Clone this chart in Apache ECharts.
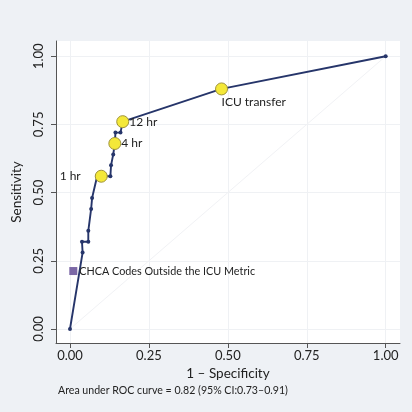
<!DOCTYPE html>
<html>
<head>
<meta charset="utf-8">
<script src="https://cdn.jsdelivr.net/npm/echarts@6/dist/echarts.min.js"></script>
<style>
  html, body { margin: 0; padding: 0; background: #eef1f5; }
  #chart { width: 412px; height: 412px; }
</style>
</head>
<body>
<div id="chart"></div>
<script>
// ROC curve vertices (1 - specificity, sensitivity)
const rocFpr = [0, 0.040, 0.038, 0.058, 0.058, 0.067, 0.070, 0.086, 0.128, 0.130, 0.137, 0.142, 0.144, 0.160, 0.167, 0.480, 1];
const rocTpr = [0, 0.280, 0.320, 0.320, 0.360, 0.440, 0.480, 0.560, 0.560, 0.600, 0.640, 0.680, 0.720, 0.720, 0.760, 0.880, 1];

// highlighted time points
const hlNames = ['1 hr', '4 hr', '12 hr', 'ICU transfer'];
const hlFpr   = [0.099, 0.142, 0.167, 0.480];
const hlTpr   = [0.560, 0.680, 0.760, 0.880];

// CHCA metric point
const chcaName = 'CHCA Codes Outside the ICU Metric';
const chcaFpr  = 0.0105;
const chcaTpr  = 0.2125;

// reference diagonal
const refX = [0, 1];
const refY = [0, 1];

const tickVals = [0, 0.25, 0.5, 0.75, 1];
const footer = 'Area under ROC curve = 0.82 (95% CI:0.73\u20130.91)';

const FONT = 'Lato, "Open Sans", sans-serif';
const COLORS = {
  line:   '#26356a',
  yellow: '#f4e838',
  yBorder:'#a0943a',
  purple: '#7b68a6',
  axis:   '#555',
  text:   '#222',
  grid:   '#eff1f4',
  diag:   '#f1f2f5',
};

const hlPos = ['left', 'right', 'right', 'bottom'];

const chart = echarts.init(document.getElementById('chart'), null, { renderer: 'canvas' });

chart.setOption({
  backgroundColor: '#eef1f5',
  animation: false,
  textStyle: { fontFamily: FONT },
  title: {
    text: footer,
    left: 58,
    top: 385,
    padding: 0,
    textStyle: { fontFamily: FONT, fontSize: 10.6, fontWeight: 'normal', color: COLORS.text },
  },
  grid: {
    left: 56, right: 12, top: 41, bottom: 69,
    show: true, backgroundColor: '#fff', borderWidth: 0,
    outerBoundsMode: 'none',
  },
  xAxis: {
    type: 'value',
    min: -0.0443, max: 1.0453,
    name: '1 \u2013 Specificity',
    nameLocation: 'middle',
    nameGap: 24,
    nameTextStyle: { fontFamily: FONT, fontSize: 13.5, color: COLORS.text },
    axisLine: { show: true, onZero: false, lineStyle: { color: COLORS.axis, width: 1 } },
    axisTick: { show: true, length: 5, customValues: tickVals, lineStyle: { color: COLORS.axis } },
    axisLabel: {
      customValues: tickVals, margin: 6,
      fontFamily: FONT, fontSize: 13, color: COLORS.text,
      formatter: v => v.toFixed(2),
    },
    splitLine: { show: true, lineStyle: { color: COLORS.grid, width: 1 } },
  },
  yAxis: {
    type: 'value',
    min: -0.0513, max: 1.0557,
    name: 'Sensitivity',
    nameLocation: 'middle',
    nameGap: 30,
    nameTextStyle: { fontFamily: FONT, fontSize: 13.5, color: COLORS.text },
    axisLine: { show: true, onZero: false, lineStyle: { color: COLORS.axis, width: 1 } },
    axisTick: { show: true, length: 5, customValues: tickVals, lineStyle: { color: COLORS.axis } },
    axisLabel: {
      customValues: tickVals, margin: 11, rotate: 90,
      fontFamily: FONT, fontSize: 13, color: COLORS.text,
      formatter: v => v.toFixed(2),
    },
    splitLine: { show: true, lineStyle: { color: COLORS.grid, width: 1 } },
  },
  series: [
    {
      name: 'reference',
      type: 'line',
      data: refX.map((x, i) => [x, refY[i]]),
      symbol: 'none',
      lineStyle: { color: COLORS.diag, width: 1 },
      silent: true,
      z: 1,
    },
    {
      name: 'ROC',
      type: 'line',
      data: rocFpr.map((x, i) => [x, rocTpr[i]]),
      symbol: 'circle',
      symbolSize: 4,
      lineStyle: { color: COLORS.line, width: 1.9 },
      itemStyle: { color: COLORS.line },
      z: 3,
    },
    {
      name: 'time points',
      type: 'scatter',
      data: hlFpr.map((x, i) => ({
        value: [x, hlTpr[i]],
        name: hlNames[i],
        label: {
          position: hlPos[i],
          distance: hlPos[i] === 'left' ? 14 : (hlPos[i] === 'bottom' ? 1 : 0),
          align: hlPos[i] === 'bottom' ? 'left' : undefined,
        },
      })),
      symbol: 'circle',
      symbolSize: 12,
      itemStyle: { color: COLORS.yellow, borderColor: COLORS.yBorder, borderWidth: 1, opacity: 1 },
      label: {
        show: true,
        formatter: p => p.name,
        fontFamily: FONT, fontSize: 12, color: COLORS.text,
      },
      z: 5,
    },
    {
      name: 'CHCA',
      type: 'scatter',
      data: [{ value: [chcaFpr, chcaTpr], name: chcaName }],
      symbol: 'rect',
      symbolSize: 8,
      itemStyle: { color: COLORS.purple, opacity: 1 },
      label: {
        show: true, position: 'right', distance: 2,
        formatter: p => p.name,
        fontFamily: FONT, fontSize: 10.8, color: COLORS.text,
      },
      z: 5,
    },
  ],
});
</script>
</body>
</html>
